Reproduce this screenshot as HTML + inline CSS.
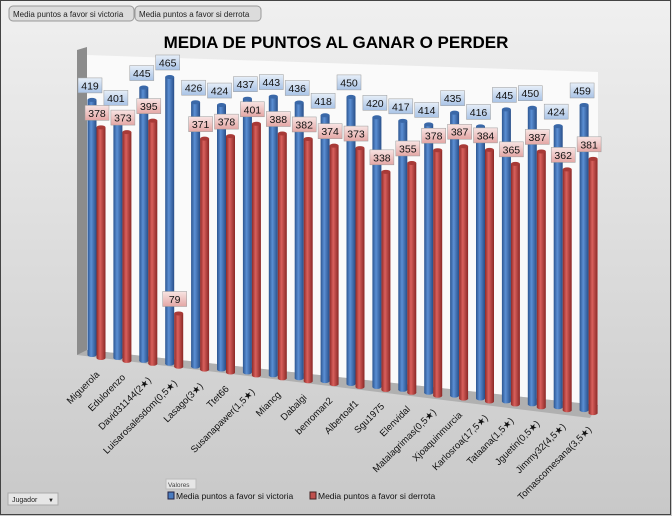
<!DOCTYPE html>
<html><head><meta charset="utf-8"><style>
body{margin:0;width:672px;height:516px;overflow:hidden;font-family:"Liberation Sans","DejaVu Sans",sans-serif;}
svg{display:block}
</style></head><body>
<svg id="c" width="672" height="516" viewBox="0 0 672 516">
<defs>
<linearGradient id="bg" x1="0" y1="0" x2="0" y2="1"><stop offset="0" stop-color="#f0f0f0"/><stop offset="1" stop-color="#c8c8c8"/></linearGradient>
<linearGradient id="gb" x1="0" y1="0" x2="1" y2="0"><stop offset="0" stop-color="#2c5590"/><stop offset="0.4" stop-color="#5b8fd4"/><stop offset="1" stop-color="#284e88"/></linearGradient>
<linearGradient id="gr" x1="0" y1="0" x2="1" y2="0"><stop offset="0" stop-color="#8e2a28"/><stop offset="0.4" stop-color="#d9605c"/><stop offset="1" stop-color="#8a2826"/></linearGradient>
<linearGradient id="lb" x1="0" y1="0" x2="0" y2="1"><stop offset="0" stop-color="#e6eef8"/><stop offset="1" stop-color="#a9c3e6"/></linearGradient>
<linearGradient id="lr" x1="0" y1="0" x2="0" y2="1"><stop offset="0" stop-color="#f8e4e3"/><stop offset="1" stop-color="#e4a7a5"/></linearGradient>
</defs>
<rect x="0" y="0" width="672" height="516" fill="url(#bg)"/>
<rect x="0.5" y="0.5" width="670" height="514" fill="none" stroke="#444"/>
<g><rect x="9" y="6" width="125" height="15" rx="4" fill="#dcdcdc" stroke="#999"/><text x="13" y="17" font-size="8" fill="#222">Media puntos a favor si victoria</text></g>
<g><rect x="135" y="6" width="126" height="15" rx="4" fill="#dcdcdc" stroke="#999"/><text x="139" y="17" font-size="8" fill="#222">Media puntos a favor si derrota</text></g>
<text x="336" y="48" text-anchor="middle" font-size="17" font-weight="bold" fill="#000">MEDIA DE PUNTOS AL GANAR O PERDER</text>
<polygon points="87,55 598,72 598,405 87,350" fill="#fafafa"/>
<polygon points="77,50 87,47 87,352 77,355" fill="#8c8c8c"/>
<polygon points="77,355 87,350 598,405 590,418" fill="#b0b0b0"/>
<g id="bars"></g>
<g id="labels"></g>
<g id="cats"></g>
<g><rect x="166" y="479" width="30" height="10" fill="#e6e6e6" stroke="#bbb"/><text x="168" y="487" font-size="6.5" fill="#444">Valores</text></g>
<g>
<g><rect x="168" y="492" width="6" height="7" fill="#4a7cc0" stroke="#224"/><text x="176" y="499" font-size="8.5" fill="#111">Media puntos a favor si victoria</text></g>
<g><rect x="310" y="492" width="6" height="7" fill="#c0504d" stroke="#422"/><text x="318" y="499" font-size="8.5" fill="#111">Media puntos a favor si derrota</text></g>
</g>
<g><rect x="8" y="493" width="50" height="12" fill="#e6e6e6" stroke="#aaa"/><text x="12" y="502" font-size="7" fill="#222">Jugador</text><text x="48" y="502" font-size="6" fill="#222">▼</text></g>
</svg>
<script>
const categories=["Miguerola","Edulorenzo","David31144(2★)","Luisarosalesdom(0,5★)","Lasago(3★)","Ttet66","Susanapawer(1,5★)","Miancg","Dabalgi","benroman2","Albertoaf1","Sgu1975","Elenvidal","Matalagrimas(0,5★)","Xjoaquinmurcia","Karlosroa(17,5★)","Tataana(1,5★)","Jguetin(0,5★)","Jimmy32(4,5★)","Tomascomesana(3,5★)"];
const victoria=[419,401,445,465,426,424,437,443,436,418,450,420,417,414,435,416,445,450,424,459];
const derrota=[378,373,395,79,371,378,401,388,382,374,373,338,355,378,387,384,365,387,362,381];
const NS="http://www.w3.org/2000/svg";
const n=categories.length;
function xPos(i){return 92+i*25.9;}
function baseY(i){return 355+i*2.9;}
function yScale(i,v){return (v+9)*(0.596+0.056*i/(n-1));}
function mk(tag,attrs,parent){const e=document.createElementNS(NS,tag);for(const k in attrs)e.setAttribute(k,attrs[k]);parent.appendChild(e);return e;}
const bars=document.getElementById('bars'),labels=document.getElementById('labels'),cats=document.getElementById('cats');
function cyl(cx,by,h,fill,top,name){
  const g=mk('g',{},bars);
  
  
  const w=4.5,ty=by-h;
  mk('rect',{x:cx-w,y:ty,width:2*w,height:h,fill:fill},g);
  mk('ellipse',{cx:cx,cy:by,rx:w,ry:2,fill:fill},g);
  mk('ellipse',{cx:cx,cy:ty,rx:w,ry:2,fill:top},g);
}
function lab(cx,ty,v,fill,name){
  const g=mk('g',{},labels);
  
  
  mk('rect',{x:cx-12,y:ty-22,width:24,height:15,fill:fill,stroke:'#999','stroke-width':0.5},g);
  const t=mk('text',{x:cx,y:ty-10.5,'text-anchor':'middle','font-size':10.5,fill:'#111'},g);
  t.textContent=v;
}
for(let i=0;i<n;i++){
  const bx=xPos(i),by=baseY(i),hb=yScale(i,victoria[i]);
  const rx=bx+9,ry=by+3,hr=yScale(i,derrota[i]);
  cyl(bx,by,hb,'url(#gb)','#3a68a8','bar-victoria-'+i);
  cyl(rx,ry,hr,'url(#gr)','#a83a37','bar-derrota-'+i);
  lab(bx-2,by-hb,victoria[i],'url(#lb)','label-victoria-'+i);
  lab(rx-4,ry-hr,derrota[i],'url(#lr)','label-derrota-'+i);
  const t=mk('text',{x:bx+8,y:by+20,'text-anchor':'end','font-size':9.5,fill:'#111',transform:'rotate(-45 '+(bx+8)+' '+(by+20)+')'},cats);
  
  
  t.textContent=categories[i];
}
</script>
</body></html>
